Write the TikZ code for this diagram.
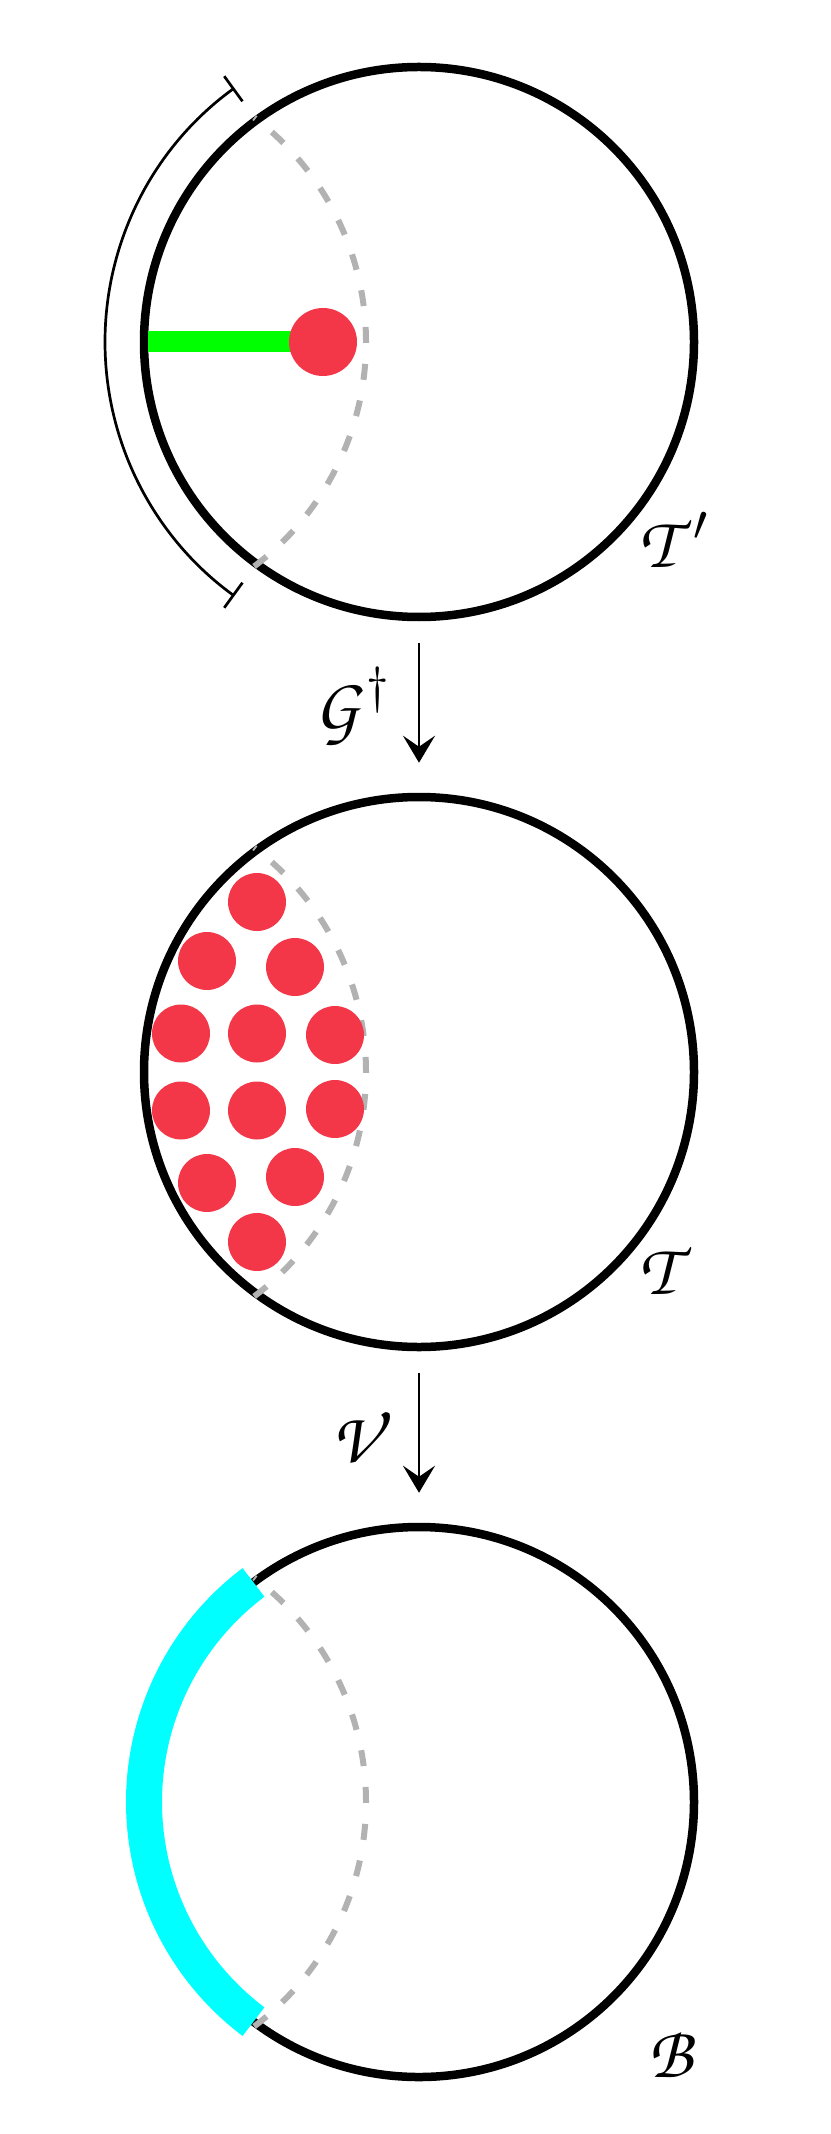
\documentclass[tikz,border=0pt]{standalone}
\usepackage{tikz}
\usetikzlibrary{
	calc, positioning, arrows, arrows.meta%
}
\DeclareMathAlphabet{\mathpzc}{OT1}{pzc}{m}{it}
\definecolor{dotred}{RGB}{243,55,72}
\definecolor{aqua}{RGB}{0,255,255}
\definecolor{lime}{RGB}{0,255,0}
\tikzset{
	>={Stealth[length=2.7mm, width=3.2mm, inset=1.1mm]},
	disk/.style={
		circle,
		draw=black,
		line width=0.85mm,
		minimum size=55mm,
		inner sep=0pt},
	spot/.style={
		circle,
		fill=dotred,
		minimum size=5.8mm,
		inner sep=0pt},
	geod/.style={draw=black!30, line width=0.6mm, dash pattern=on 1.6mm off 2.1mm},
	line/.style={draw, line width=0.27mm, ->, shorten <=2.2mm, shorten >=3mm},
	bracket/.style={draw, line width=0.27mm, {Bar[width=3.1mm]}-{Bar[width=3.1mm]}},
	lbl/.style={font=\huge, inner sep=0pt, anchor=west},
}
\begin{document}
\begin{tikzpicture}
	\useasboundingbox (0,0) rectangle (8.3,-21.34);

	% three disks
	\node[disk] (t1) at (4.19,-3.42) {};
	\node[disk] (t2) at (4.19,-10.72) {};
	\node[disk] (t3) at (4.19,-18.02) {};

	% dashed arcs
	\foreach \t in {t1,t2,t3}
		\draw[geod] (\t.center) ++(-3.34,0) ++(-53:2.81) arc[start angle=-53, end angle=53, radius=2.81];

	% top disk: bar, point and bracket
	\coordinate (k1) at ($(t1.center)+(-0.96,0)$);
	\draw[lime, line width=2.1mm, shorten <=0.85mm] (t1.west) -- (k1);
	\node[spot, minimum size=6.8mm] (s0) at (k1) {};
	\draw[bracket] (t1.center) ++(126:3.14) arc[start angle=126, end angle=234, radius=3.14];

	% middle disk: points
	\foreach \x/\y [count=\i] in {-1.62/1.70, -2.12/1.11, -1.24/1.05, -2.38/0.385, -1.62/0.385, -0.84/0.37,
		-2.38/-0.385, -1.62/-0.385, -0.84/-0.37, -2.12/-1.11, -1.24/-1.05, -1.62/-1.70}
		\node[spot] (s\i) at ($(t2.center)+(\x,\y)$) {};

	% bottom disk: boundary piece
	\draw[aqua, line width=3.6mm] (t3.center) ++(127:2.75) arc[start angle=127, end angle=233, radius=2.75];

	% maps
	\draw[line] (t1) -- (t2) node[midway, left=1.5mm, font=\huge] {$\mathpzc{G}^\dagger$};
	\draw[line] (t2) -- (t3) node[midway, left=1.5mm, font=\huge] {$\mathpzc{V}$};

	% labels
	\node[lbl] (l1) at ($(t1.center)+(2.2,-1.98)$) {$\mathpzc{T}'$};
	\node[lbl] (l2) at ($(t2.center)+(2.2,-1.98)$) {$\mathpzc{T}$};
	\node[lbl] (l3) at ($(t3.center)+(2.29,-2.53)$) {$\mathpzc{B}$};
\end{tikzpicture}
\end{document}
